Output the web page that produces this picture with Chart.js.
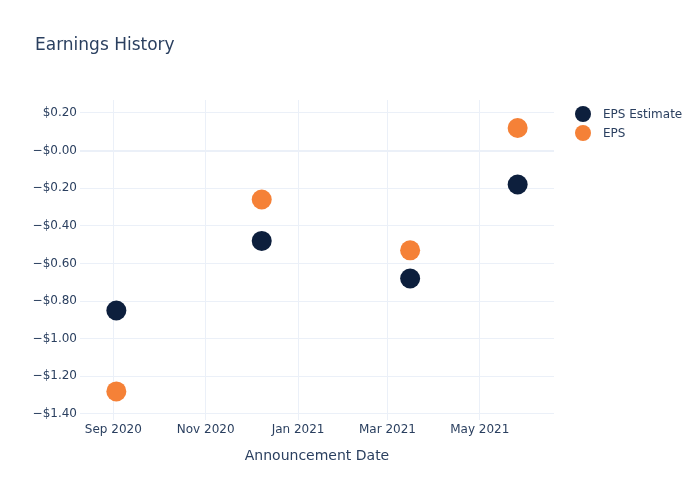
<!DOCTYPE html>
<html>
<head>
<meta charset="utf-8">
<script src="https://cdn.jsdelivr.net/npm/chart.js@4.4.1/dist/chart.umd.min.js"></script>
<style>
  html, body { margin: 0; padding: 0; background: #fff; }
  #wrap { width: 700px; height: 500px; }
</style>
</head>
<body>
<div id="wrap"><canvas id="chart" width="700" height="500"></canvas></div>
<script>
// announcement dates (year, month 1-12, day)
const dates = [[2020, 9, 3], [2020, 12, 8], [2021, 3, 16], [2021, 5, 26]];
const epsEstimate = [-0.85, -0.48, -0.68, -0.18];
const eps = [-1.28, -0.26, -0.53, 0.12];

const xTickDates = [[2020, 9, 1], [2020, 11, 1], [2021, 1, 1], [2021, 3, 1], [2021, 5, 1]];
const yTicks = [0.2, 0, -0.2, -0.4, -0.6, -0.8, -1.0, -1.2, -1.4];
const monthNames = ['Jan', 'Feb', 'Mar', 'Apr', 'May', 'Jun', 'Jul', 'Aug', 'Sep', 'Oct', 'Nov', 'Dec'];

const textColor = '#2a3f5f';
const gridColor = '#ebf0f8';
const fontFamily = '"DejaVu Sans", verdana, sans-serif';

function dayNum(d) {
  return Date.UTC(d[0], d[1] - 1, d[2]) / 86400000;
}

function dayLabel(v) {
  let dt = new Date(v * 86400000);
  return monthNames[dt.getUTCMonth()] + ' ' + dt.getUTCFullYear();
}

function money(v) {
  // zero tick shows as −$0.00 in the original
  let sign = v <= 0 ? '\u2212' : '';
  return sign + '$' + Math.abs(v).toFixed(2);
}

Chart.defaults.font.family = fontFamily;
Chart.defaults.color = textColor;

// title + legend drawn by hand to sit where the original has them
const decorPlugin = {
  id: 'decor',
  afterDraw(chart) {
    let ctx = chart.ctx;
    ctx.save();
    ctx.fillStyle = textColor;
    ctx.font = '17px ' + fontFamily;
    ctx.textAlign = 'left';
    ctx.textBaseline = 'middle';
    ctx.fillText('Earnings History', 35, 46);

    ctx.font = '12px ' + fontFamily;
    chart.data.datasets.forEach((ds, i) => {
      let y = 114 + i * 19;
      ctx.beginPath();
      ctx.arc(583, y, 8, 0, Math.PI * 2);
      ctx.fillStyle = ds.backgroundColor;
      ctx.fill();
      ctx.fillStyle = textColor;
      ctx.fillText(ds.label, 603, y + 1);
    });
    ctx.restore();
  }
};

new Chart(document.getElementById('chart'), {
  type: 'scatter',
  data: {
    datasets: [
      {
        label: 'EPS Estimate',
        data: dates.map((d, i) => ({ x: dayNum(d), y: epsEstimate[i] })),
        backgroundColor: '#0d1f3d',
        borderWidth: 0,
        pointRadius: 10,
        pointHoverRadius: 10
      },
      {
        label: 'EPS',
        data: dates.map((d, i) => ({ x: dayNum(d), y: eps[i] })),
        backgroundColor: '#f58137',
        borderWidth: 0,
        pointRadius: 10,
        pointHoverRadius: 10
      }
    ]
  },
  options: {
    responsive: false,
    animation: false,
    layout: { padding: { top: 100, right: 146, left: 0, bottom: 0 } },
    plugins: {
      legend: { display: false },
      title: { display: false },
      tooltip: { enabled: false }
    },
    scales: {
      x: {
        type: 'linear',
        min: dayNum([2020, 8, 10]),
        max: dayNum([2021, 6, 19]),
        afterFit(scale) { scale.height = 80; },
        afterBuildTicks(scale) {
          scale.ticks = xTickDates.map(d => ({ value: dayNum(d) }));
        },
        border: { display: false },
        grid: { color: gridColor, lineWidth: 1, drawTicks: false },
        ticks: {
          padding: 3,
          maxRotation: 0,
          font: { size: 12 },
          callback: v => dayLabel(v)
        },
        title: {
          display: true,
          text: 'Announcement Date',
          font: { size: 14 },
          padding: { top: 0, bottom: 35 }
        }
      },
      y: {
        min: -1.432,
        max: 0.269,
        afterFit(scale) { scale.width = 80; },
        afterBuildTicks(scale) {
          scale.ticks = yTicks.map(v => ({ value: v }));
        },
        border: { display: false },
        grid: {
          color: gridColor,
          drawTicks: false,
          lineWidth: c => (c.tick && c.tick.value === 0 ? 2 : 1)
        },
        ticks: {
          padding: 3,
          font: { size: 12 },
          callback: v => money(v)
        }
      }
    }
  },
  plugins: [decorPlugin]
});
</script>
</body>
</html>
